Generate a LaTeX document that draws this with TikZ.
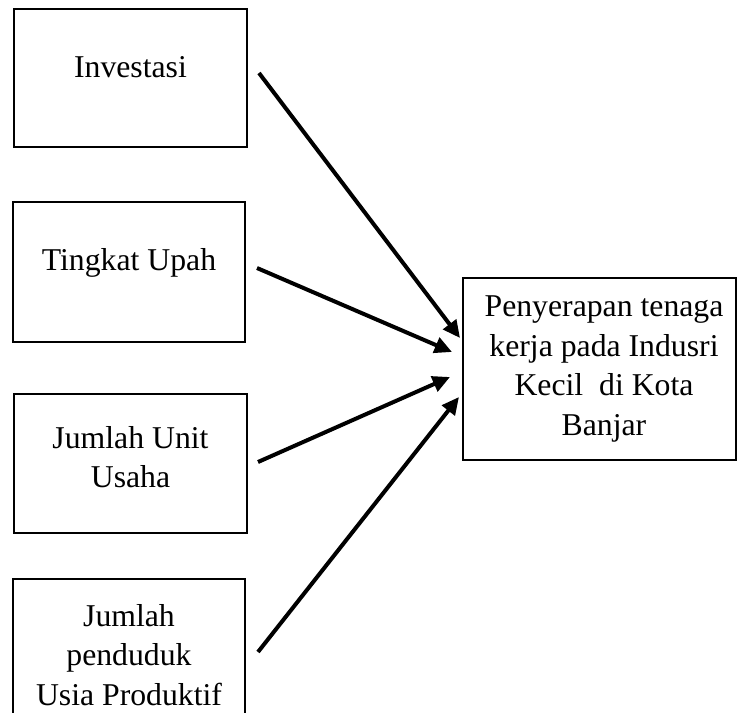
\documentclass[tikz,border=0pt]{standalone}
\usepackage{fontspec}
\setmainfont{Liberation Serif}
\usetikzlibrary{arrows.meta}
\begin{document}
\begin{tikzpicture}[x=0.75pt,y=-0.75pt,
  box/.style={draw,line width=1.5pt,inner sep=0pt},
  lbl/.style={font=\fontsize{23.8pt}{29.6pt}\selectfont,align=center,inner sep=0pt},
  arr/.style={line width=3pt,-{Triangle[length=13pt,width=12pt]}}]
\useasboundingbox (0,0) rectangle (738,713);
% boxes
\node[box,minimum width=174.75pt,minimum height=103.5pt] (b1) at (130.5,78) {};
\node[box,minimum width=174pt,minimum height=105pt] (b2) at (129,272) {};
\node[box,minimum width=174.75pt,minimum height=104.25pt] (b3) at (130.5,463.5) {};
\node[box,minimum width=174pt,minimum height=135.75pt] (b4) at (129,669.5) {};
\node[box,minimum width=204.75pt,minimum height=136.5pt] (r) at (599.5,369) {};
% labels
\node[lbl] (t1) at (130.5,67) {Investasi};
\node[lbl] (t2) at (129,263) {Tingkat Upah};
\node[lbl] (t3) at (130.5,457) {Jumlah Unit\\Usaha};
\node[lbl] (t4) at (129,655) {Jumlah\\penduduk\\Usia Produktif};
\node[lbl] (t5) at (604,369) {Penyerapan tenaga\\kerja pada Indusri\\Kecil~ di Kota\\Banjar};
% connector ends
\coordinate (s1) at (259,73);  \coordinate (e1) at (460,338);
\coordinate (s2) at (257,268); \coordinate (e2) at (452,352);
\coordinate (s3) at (258,462); \coordinate (e3) at (450,377);
\coordinate (s4) at (258,652); \coordinate (e4) at (459,397);
\draw[arr] (s1) -- (e1);
\draw[arr] (s2) -- (e2);
\draw[arr] (s3) -- (e3);
\draw[arr] (s4) -- (e4);
\end{tikzpicture}
\end{document}
